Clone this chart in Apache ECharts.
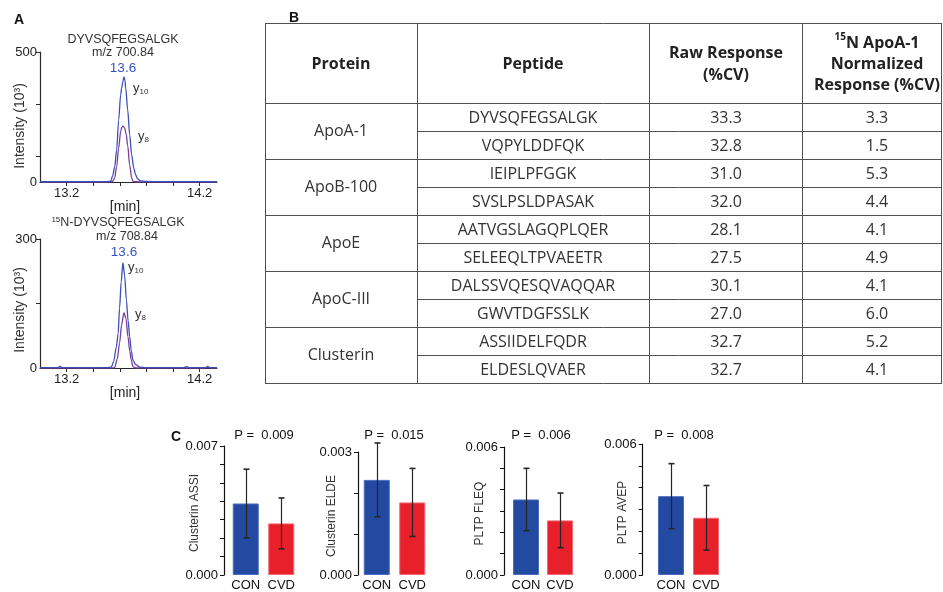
<!DOCTYPE html>
<html><head><meta charset="utf-8">
<script src="https://cdn.jsdelivr.net/npm/echarts@6/dist/echarts.min.js"></script>
<style>html,body{margin:0;padding:0;background:#fff}#c{width:943px;height:592px}</style>
</head><body><div id="c"></div>
<script>
// ---------- Panel A data (retention time [min], intensity 10^3) ----------
const chromTicks = [13.2, 13.4, 13.6, 13.8, 14.0, 14.2];
const chromLabels = [13.2, 14.2];
const lightYTicks = [100, 300, 500];
const lightYLabels = [0, 500];
const heavyYTicks = [150, 300];
const heavyYLabels = [0, 300];
const lightY10 = [[13.00,1],[13.10,1],[13.20,1],[13.30,1],[13.40,1],[13.50,1],[13.530,3],[13.546,23],[13.561,58],[13.576,123],[13.591,238],[13.606,335],[13.614,362],[13.622,385],[13.631,404],[13.638,392],[13.644,362],[13.659,277],[13.674,181],[13.689,104],[13.704,54],[13.719,27],[13.734,12],[13.756,4],[13.80,2],[13.90,1],[14.00,1],[14.10,1],[14.20,1],[14.33,1]];
const lightY8 = [[13.00,0],[13.50,0],[13.545,2],[13.561,15],[13.576,60],[13.591,130],[13.606,195],[13.615,210],[13.623,215],[13.636,208],[13.647,185],[13.659,140],[13.674,65],[13.689,15],[13.700,2],[13.75,0],[14.33,0]];
const heavyY10 = [[13.00,1],[13.10,1],[13.13,1],[13.15,4],[13.17,1],[13.30,1],[13.50,1],[13.536,2],[13.553,15],[13.574,49],[13.587,80],[13.598,140],[13.610,200],[13.623,245],[13.636,215],[13.649,158],[13.662,110],[13.674,73],[13.686,40],[13.698,19],[13.719,8],[13.749,2],[13.80,1],[14.00,1],[14.08,1],[14.10,3],[14.12,1],[14.20,1],[14.33,1]];
const heavyY8 = [[13.00,0],[13.54,0],[13.561,1],[13.580,20],[13.598,58],[13.613,100],[13.631,129],[13.646,115],[13.661,73],[13.674,40],[13.686,19],[13.698,3],[13.72,0],[14.24,0],[14.26,4],[14.28,0],[14.33,0]];

// ---------- Panel B data ----------
const tblHeaders = ['Protein', 'Peptide', 'Raw Response\n(%CV)', '15N ApoA-1\nNormalized\nResponse (%CV)'];
const tblProteins = ['ApoA-1', 'ApoB-100', 'ApoE', 'ApoC-III', 'Clusterin'];
const tblPeptides = ['DYVSQFEGSALGK','VQPYLDDFQK','IEIPLPFGGK','SVSLPSLDPASAK','AATVGSLAGQPLQER','SELEEQLTPVAEETR','DALSSVQESQVAQQAR','GWVTDGFSSLK','ASSIIDELFQDR','ELDESLQVAER'];
const tblRawCV = [33.3, 32.8, 31.0, 32.0, 28.1, 27.5, 30.1, 27.0, 32.7, 32.7];
const tblNormCV = [3.3, 1.5, 5.3, 4.4, 4.1, 4.9, 4.1, 6.0, 5.2, 4.1];

// ---------- Panel C data ----------
const groups = ['CON', 'CVD'];
const barTitles = ['Clusterin ASSI', 'Clusterin ELDE', 'PLTP FLEQ', 'PLTP AVEP'];
const pValues = ['0.009', '0.015', '0.006', '0.008'];
const conMean = [0.00388, 0.00232, 0.00354, 0.00361];
const conSD   = [0.00186, 0.00090, 0.00146, 0.00149];
const cvdMean = [0.00280, 0.00177, 0.00256, 0.00262];
const cvdSD   = [0.00138, 0.00083, 0.00128, 0.00148];
const yMax    = [0.007, 0.003, 0.006, 0.006];

// ---------- styling / layout ----------
const AF = '"Liberation Sans", Arial, sans-serif';
const TF = '"Open Sans", "Noto Sans", sans-serif';
const BLUE_LINE = '#3b4fb8', PURPLE_LINE = '#7d3a98', BLUE_TXT = '#3553c4';
const CON_C = '#2349a0', CVD_C = '#e8202b';
const AX = '#2a2a2a';

const grid = [], xAxis = [], yAxis = [], series = [], G = [];

function txt(x, y, text, o) {
  o = o || {};
  G.push({type: 'text', x: x, y: y, rotation: o.rot || 0, z: 50, silent: true,
    style: Object.assign({text: text, fontFamily: o.ff || AF, fontSize: o.fs || 13,
      fontWeight: o.fw || 'normal', fill: o.fill || '#2a2a2a',
      align: o.align || 'center', verticalAlign: 'middle', lineHeight: o.lh}, o.rich ? {rich: o.rich} : {})});
}
function ln(x1, y1, x2, y2, w, c) {
  G.push({type: 'line', z: 40, silent: true, shape: {x1: x1, y1: y1, x2: x2, y2: y2},
    style: {stroke: c || '#505050', lineWidth: w || 1}});
}

// Panel A chromatograms
const chromDefs = [
  {top: 52, height: 130, max: 500, ticks: lightYTicks, labels: lightYLabels, y10: lightY10, y8: lightY8},
  {top: 239, height: 129, max: 300, ticks: heavyYTicks, labels: heavyYLabels, y10: heavyY10, y8: heavyY8}
];
chromDefs.forEach(function (d, i) {
  grid.push({left: 40, top: d.top, width: 177, height: d.height});
  xAxis.push({type: 'value', gridIndex: i, min: 13.0, max: 14.33,
    axisLine: {show: true, onZero: false, lineStyle: {color: AX, width: 1.2}},
    axisTick: {show: true, customValues: chromTicks, length: 4, lineStyle: {color: AX}},
    axisLabel: {customValues: chromLabels, formatter: function (v) { return v.toFixed(1); },
      fontFamily: AF, fontSize: 13, color: '#222', margin: 5},
    splitLine: {show: false}});
  yAxis.push({type: 'value', gridIndex: i, min: 0, max: d.max,
    axisLine: {show: true, lineStyle: {color: AX, width: 1.2}},
    axisTick: {show: true, customValues: d.ticks, length: 4, lineStyle: {color: AX}},
    axisLabel: {customValues: d.labels, fontFamily: AF, fontSize: 13, color: '#222', margin: 3},
    splitLine: {show: false}});
  series.push({type: 'line', xAxisIndex: i, yAxisIndex: i, data: d.y8, showSymbol: false,
    smooth: 0.3, smoothMonotone: 'x', lineStyle: {color: PURPLE_LINE, width: 1.3}, z: 3});
  series.push({type: 'line', xAxisIndex: i, yAxisIndex: i, data: d.y10, showSymbol: false,
    smooth: 0.3, smoothMonotone: 'x', lineStyle: {color: BLUE_LINE, width: 1.3}, z: 4});
});

const subRich = {
  y: {fontFamily: AF, fontSize: 13, fill: '#333', lineHeight: 16, verticalAlign: 'middle'},
  s: {fontFamily: AF, fontSize: 8, fill: '#333', lineHeight: 8, verticalAlign: 'bottom'}
};
const supRich = {
  s: {fontFamily: AF, fontSize: 8, fill: '#333', lineHeight: 8, verticalAlign: 'top'},
  t: {fontFamily: AF, fontSize: 12.5, fill: '#333', lineHeight: 15}
};
txt(19, 20, 'A', {fs: 14, fw: 'bold', fill: '#111'});
txt(123, 40, 'DYVSQFEGSALGK', {fs: 12.5, fill: '#333'});
txt(123, 53, 'm/z 700.84', {fs: 12.5, fill: '#333'});
txt(123, 68, '13.6', {fs: 13.5, fill: BLUE_TXT});
txt(133, 88, '{y|y}{s|10}', {align: 'left', rich: subRich});
txt(138, 136, '{y|y}{s|8}', {align: 'left', rich: subRich});
txt(20, 126, 'Intensity (10³)', {fs: 14, rot: Math.PI / 2, fill: '#333'});
txt(125, 207, '[min]', {fs: 14, fill: '#222'});

txt(118, 223, '{s|15}{t|N-DYVSQFEGSALGK}', {rich: supRich});
txt(127, 237, 'm/z 708.84', {fs: 12.5, fill: '#333'});
txt(124, 252, '13.6', {fs: 13.5, fill: BLUE_TXT});
txt(128, 267, '{y|y}{s|10}', {align: 'left', rich: subRich});
txt(135, 314, '{y|y}{s|8}', {align: 'left', rich: subRich});
txt(20, 310, 'Intensity (10³)', {fs: 14, rot: Math.PI / 2, fill: '#333'});
txt(125, 393, '[min]', {fs: 14, fill: '#222'});

// Panel B table
const tblX = [265, 417, 649, 802, 941];
const tblTop = 23, tblHead = 103, tblRow = 28;
const tblBottom = tblHead + tblRow * tblPeptides.length;
txt(294, 18, 'B', {fs: 14, fw: 'bold', fill: '#111'});
tblX.forEach(function (x) { ln(x + 0.5, tblTop, x + 0.5, tblBottom + 0.5); });
ln(tblX[0], tblTop + 0.5, tblX[4] + 1, tblTop + 0.5);
ln(tblX[0], tblHead + 0.5, tblX[4] + 1, tblHead + 0.5);
for (let r = 1; r < tblPeptides.length; r++) {
  const y = tblHead + tblRow * r + 0.5;
  ln(r % 2 === 0 ? tblX[0] : tblX[1], y, tblX[4] + 1, y);
}
ln(tblX[0], tblBottom + 0.5, tblX[4] + 1, tblBottom + 0.5);
const colC = [341, 533, 726, 877];
const hy = (tblTop + tblHead) / 2 + 1;
txt(colC[0], hy, tblHeaders[0], {ff: TF, fs: 16, fw: 'bold', fill: '#222'});
txt(colC[1], hy, tblHeaders[1], {ff: TF, fs: 16, fw: 'bold', fill: '#222'});
txt(colC[2], hy, tblHeaders[2], {ff: TF, fs: 16, fw: 'bold', fill: '#222', lh: 22});
const hdr4 = tblHeaders[3].split('\n');
txt(colC[3], hy, '{s|' + hdr4[0].slice(0, 2) + '}{b|' + hdr4[0].slice(2) + '}\n{b|' + hdr4[1] + '}\n{b|' + hdr4[2] + '}', {
  rich: {
    s: {fontFamily: TF, fontSize: 10, fontWeight: 'bold', fill: '#222', lineHeight: 12, verticalAlign: 'top'},
    b: {fontFamily: TF, fontSize: 16, fontWeight: 'bold', fill: '#222', lineHeight: 21}
  }
});
tblProteins.forEach(function (p, i) {
  txt(colC[0], tblHead + tblRow * (2 * i + 1), p, {ff: TF, fs: 16, fill: '#333'});
});
tblPeptides.forEach(function (p, r) {
  const y = tblHead + tblRow * r + tblRow / 2 + 1;
  txt(colC[1], y, p, {ff: TF, fs: 16, fill: '#333'});
  txt(colC[2], y, tblRawCV[r].toFixed(1), {ff: TF, fs: 16, fill: '#333'});
  txt(colC[3], y, tblNormCV[r].toFixed(1), {ff: TF, fs: 16, fill: '#333'});
});

// Panel C bar charts
txt(176, 437, 'C', {fs: 14, fw: 'bold', fill: '#111'});
const barLayout = [
  {left: 228, top: 446, width: 71, height: 130, offset: 4, nameX: 195, pX: 264},
  {left: 359, top: 452, width: 71, height: 124, offset: 1, nameX: 332, pX: 394},
  {left: 509, top: 447, width: 68, height: 129, offset: 5, nameX: 480, pX: 541},
  {left: 653.5, top: 444, width: 70, height: 133, offset: 10.8, nameX: 623, pX: 684}
];
barTitles.forEach(function (title, k) {
  const L = barLayout[k];
  const gi = grid.length;
  grid.push({left: L.left, top: L.top, width: L.width, height: L.height});
  xAxis.push({type: 'category', gridIndex: gi, data: groups,
    axisLine: {show: false}, axisTick: {show: false},
    axisLabel: {interval: 0, hideOverlap: false, fontFamily: AF, fontSize: 13, color: '#111', margin: 4}});
  yAxis.push({type: 'value', gridIndex: gi, min: 0, max: yMax[k], interval: 0.001, offset: L.offset,
    axisLine: {show: true, lineStyle: {color: '#111', width: 1.2}},
    axisTick: {show: true, length: 4, lineStyle: {color: '#111'}},
    axisLabel: {customValues: [0, yMax[k]], formatter: function (v) { return v.toFixed(3); },
      fontFamily: AF, fontSize: 13, color: '#111', margin: 6},
    splitLine: {show: false}});
  series.push({type: 'bar', xAxisIndex: gi, yAxisIndex: gi, barWidth: 26,
    data: [
      {value: conMean[k], itemStyle: {color: CON_C, borderColor: '#4a6cc0', borderWidth: 1}},
      {value: cvdMean[k], itemStyle: {color: CVD_C, borderColor: '#f06a70', borderWidth: 1}}
    ]});
  series.push({type: 'custom', xAxisIndex: gi, yAxisIndex: gi, z: 10,
    encode: {x: 0, y: [1, 2]},
    data: [[0, conMean[k] - conSD[k], conMean[k] + conSD[k]], [1, cvdMean[k] - cvdSD[k], cvdMean[k] + cvdSD[k]]],
    renderItem: function (params, api) {
      const c = api.value(0);
      const lo = api.coord([c, api.value(1)]);
      const hi = api.coord([c, api.value(2)]);
      const x = Math.round(lo[0]) + 0.5, cw = 3;
      const st = {stroke: '#262626', lineWidth: 1.2};
      return {type: 'group', children: [
        {type: 'line', shape: {x1: x, y1: lo[1], x2: x, y2: hi[1]}, style: st},
        {type: 'line', shape: {x1: x - cw, y1: lo[1], x2: x + cw, y2: lo[1]}, style: {stroke: '#262626', lineWidth: 1.6}},
        {type: 'line', shape: {x1: x - cw, y1: hi[1], x2: x + cw, y2: hi[1]}, style: {stroke: '#262626', lineWidth: 1.6}}
      ]};
    }});
  txt(L.pX, 435, 'P =  ' + pValues[k], {fs: 13, fill: '#111'});
  txt(L.nameX, L.top + L.height / 2 + 2, title, {fs: 12, rot: Math.PI / 2, fill: '#333'});
});

const chart = echarts.init(document.getElementById('c'));
chart.setOption({
  animation: false,
  backgroundColor: '#fff',
  textStyle: {fontFamily: AF},
  grid: grid, xAxis: xAxis, yAxis: yAxis, series: series,
  graphic: {elements: G}
});
</script></body></html>
